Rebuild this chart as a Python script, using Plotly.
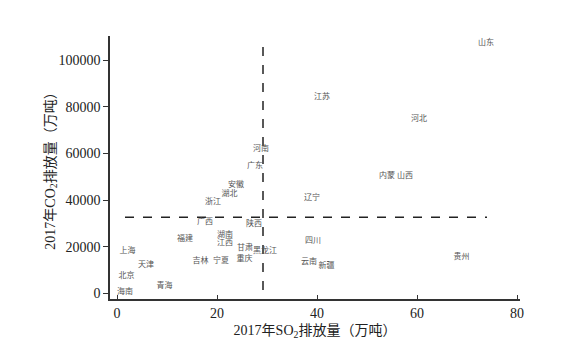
import plotly.graph_objects as go

provinces = ["山东", "江苏", "河北", "河南", "广东", "安徽", "湖北", "浙江", "广西", "陕西",
             "湖南", "江西", "福建", "上海", "甘肃", "黑龙江", "重庆", "吉林", "宁夏", "天津",
             "北京", "青海", "海南", "辽宁", "内蒙", "山西", "四川", "云南", "新疆", "贵州"]
so2 = [73.8, 41.0, 60.4, 28.8, 27.6, 23.8, 22.5, 19.2, 17.6, 27.4,
       21.6, 21.6, 13.6, 2.1, 25.6, 29.6, 25.5, 16.7, 20.8, 5.8,
       1.9, 9.5, 1.6, 39.0, 54.0, 57.6, 39.2, 38.4, 41.9, 68.9]
co2 = [107400, 84200, 74800, 61900, 54600, 46600, 42800, 39200, 30600, 29700,
       25100, 21400, 23200, 18100, 19300, 18100, 14700, 14000, 14000, 12100,
       7400, 3100, 400, 40800, 50500, 50500, 22600, 13600, 11700, 15700]

# quadrant divider lines (mean values)
v_line_x = [29.2, 29.2]
v_line_y = [1400, 106600]
h_line_x = [1.6, 74.0]
h_line_y = [32600, 32600]

x_ticks = [0, 20, 40, 60, 80]
y_ticks = [0, 20000, 40000, 60000, 80000, 100000]

fig = go.Figure()
fig.add_trace(go.Scatter(x=v_line_x, y=v_line_y, mode="lines",
                         line=dict(color="#222", width=1.5, dash="dash"), hoverinfo="skip"))
fig.add_trace(go.Scatter(x=h_line_x, y=h_line_y, mode="lines",
                         line=dict(color="#222", width=1.5, dash="dash"), hoverinfo="skip"))
fig.add_trace(go.Scatter(x=so2, y=co2, mode="text", text=provinces,
                         textposition="middle center",
                         textfont=dict(family="Noto Sans CJK SC", size=8, color="#555")))

font_serif = "Liberation Serif, Noto Sans CJK SC"
fig.update_layout(
    width=579, height=351,
    margin=dict(l=110, r=59, t=36, b=52),
    paper_bgcolor="white", plot_bgcolor="white",
    showlegend=False,
    font=dict(family=font_serif, size=14, color="#222"),
    xaxis=dict(range=[-1.4, 80.6], tickvals=x_ticks, ticks="inside", ticklen=4,
               tickcolor="#333", showline=True, linecolor="#333", linewidth=1.5,
               showgrid=False, zeroline=False,
               tickfont=dict(family=font_serif, size=14, color="#222"),
               title=dict(text="2017年SO<sub>2</sub>排放量（万吨）", standoff=6,
                          font=dict(family=font_serif, size=14, color="#222"))),
    yaxis=dict(range=[-2450, 110400], tickvals=y_ticks, tickformat="d",
               ticks="outside", ticklen=5,
               tickcolor="#333", showline=True, linecolor="#333", linewidth=1.5,
               showgrid=False, zeroline=False,
               tickfont=dict(family=font_serif, size=14, color="#222"),
               title=dict(text="2017年CO<sub>2</sub>排放量（万吨）", standoff=0,
                          font=dict(family=font_serif, size=14, color="#222"))),
)
fig.write_html("out.html")
